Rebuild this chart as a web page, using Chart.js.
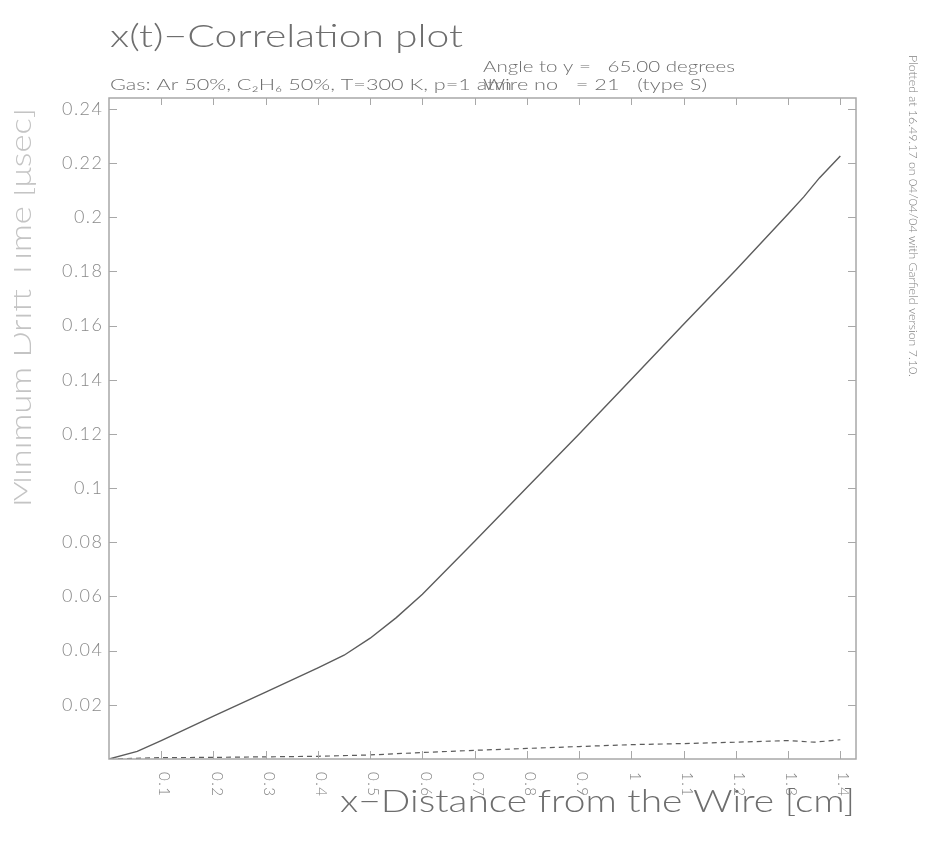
<!DOCTYPE html>
<html>
<head>
<meta charset="utf-8">
<title>x(t)-Correlation plot</title>
<script src="https://cdn.jsdelivr.net/npm/chart.js@4.4.1/dist/chart.umd.min.js"></script>
<style>
    html, body { margin: 0; padding: 0; background: #fff; }
    canvas { display: block; }
</style>
</head>
<body>
<canvas id="plot" width="932" height="845"></canvas>
<script>
const driftX = [0, 0.054, 0.1, 0.2, 0.3, 0.4, 0.45, 0.5, 0.55, 0.6, 0.7, 0.8, 0.9, 1.0, 1.1, 1.2, 1.3, 1.33, 1.36, 1.4];
const driftT = [0, 0.0028, 0.0068, 0.0158, 0.0247, 0.0336, 0.0383, 0.0446, 0.0522, 0.0608, 0.0804, 0.1002, 0.1200, 0.1402, 0.1605, 0.1805, 0.2012, 0.2075, 0.2145, 0.2226];

const spreadX = [0, 0.1, 0.2, 0.3, 0.4, 0.5, 0.6, 0.7, 0.8, 0.9, 1.0, 1.1, 1.2, 1.3, 1.35, 1.4];
const spreadT = [0, 0.0005, 0.0006, 0.0008, 0.0010, 0.0015, 0.0024, 0.0032, 0.0039, 0.0046, 0.0053, 0.0057, 0.0062, 0.0068, 0.0062, 0.0071];

const xTicks = [0.1, 0.2, 0.3, 0.4, 0.5, 0.6, 0.7, 0.8, 0.9, 1.0, 1.1, 1.2, 1.3, 1.4];
const yTicks = [0.02, 0.04, 0.06, 0.08, 0.1, 0.12, 0.14, 0.16, 0.18, 0.2, 0.22, 0.24];

const FONT = 'Lato, "DejaVu Sans", sans-serif';

/**
 * Draw text stretched/squeezed to a given width
 */
function fitText(ctx, text, x, y, width, angle) {
    const w = ctx.measureText(text).width;
    ctx.save();
    ctx.translate(x, y);
    if (angle) ctx.rotate(angle);
    ctx.scale(width / w, 1);
    ctx.fillText(text, 0, 0);
    ctx.restore();
}

function fmt(v) {
    return String(parseFloat(v.toFixed(3)));
}

// Frame, inward ticks and all the annotation text
const garfieldFrame = {
    id: 'garfieldFrame',
    afterDraw(chart) {
        const { ctx, chartArea: a, scales: { x, y } } = chart;
        ctx.save();

        // frame
        ctx.strokeStyle = '#a8a8a8';
        ctx.lineWidth = 1.5;
        ctx.strokeRect(a.left, a.top, a.right - a.left, a.bottom - a.top);

        // inward ticks on all four sides
        ctx.lineWidth = 1;
        ctx.beginPath();
        xTicks.forEach(v => {
            const px = Math.round(x.getPixelForValue(v)) + 0.5;
            ctx.moveTo(px, a.bottom); ctx.lineTo(px, a.bottom - 8);
            ctx.moveTo(px, a.top); ctx.lineTo(px, a.top + 7);
        });
        yTicks.forEach(v => {
            const py = Math.round(y.getPixelForValue(v)) + 0.5;
            ctx.moveTo(a.left, py); ctx.lineTo(a.left + 8, py);
            ctx.moveTo(a.right, py); ctx.lineTo(a.right - 8, py);
        });
        ctx.stroke();

        // y tick labels
        ctx.fillStyle = '#8a8a8a';
        ctx.font = `300 18px ${FONT}`;
        ctx.letterSpacing = '1.5px';
        ctx.textAlign = 'right';
        ctx.textBaseline = 'middle';
        yTicks.forEach(v => {
            ctx.fillText(fmt(v), 103.5, y.getPixelForValue(v));
        });

        // x tick labels, rotated clockwise
        ctx.fillStyle = '#808080';
        ctx.font = `300 15px ${FONT}`;
        ctx.letterSpacing = '1.5px';
        ctx.textAlign = 'left';
        xTicks.forEach(v => {
            ctx.save();
            ctx.translate(x.getPixelForValue(v) + 3, a.bottom + 13);
            ctx.rotate(Math.PI / 2);
            ctx.fillText(fmt(v), 0, 0);
            ctx.restore();
        });
        ctx.letterSpacing = '0px';

        // titles
        ctx.textBaseline = 'alphabetic';
        ctx.fillStyle = '#6e6e6e';
        ctx.font = `300 31px ${FONT}`;
        fitText(ctx, 'x(t)\u2212Correlation plot', 110, 47, 353);

        ctx.font = `300 16px ${FONT}`;
        fitText(ctx, 'Angle to y =   65.00 degrees', 483, 72, 252);
        fitText(ctx, 'Gas: Ar 50%, C\u2082H\u2086 50%, T=300 K, p=1 atm', 110, 90, 402);
        fitText(ctx, 'Wire no   = 21   (type S)', 483, 90, 224);

        ctx.font = `300 32px ${FONT}`;
        fitText(ctx, 'x\u2212Distance from the Wire [cm]', 340, 812, 515);

        // y axis title, only its lower half shows in the original
        ctx.save();
        ctx.beginPath();
        ctx.rect(14, 0, 40, 845);
        ctx.clip();
        ctx.fillStyle = '#c4c4c4';
        ctx.font = `300 29px ${FONT}`;
        fitText(ctx, 'Minimum Drift Time [\u03bcsec]', 31, 507, 399, -Math.PI / 2);
        ctx.restore();

        // plot stamp, right edge
        ctx.fillStyle = '#808080';
        ctx.font = `300 12px ${FONT}`;
        ctx.textBaseline = 'middle';
        fitText(ctx, 'Plotted at 16.49.17 on 04/04/04 with Garfield version 7.10.', 913, 55, 322, Math.PI / 2);

        ctx.restore();
    }
};

const toPoints = (xs, ys) => xs.map((v, i) => ({ x: v, y: ys[i] }));

new Chart(document.getElementById('plot').getContext('2d'), {
    type: 'line',
    data: {
        datasets: [
            {
                label: 'Drift time',
                data: toPoints(driftX, driftT),
                borderColor: '#5c5c5c',
                borderWidth: 1.4,
                pointRadius: 0,
                tension: 0,
                fill: false
            },
            {
                label: 'Spread',
                data: toPoints(spreadX, spreadT),
                borderColor: '#5c5c5c',
                borderWidth: 1.2,
                borderDash: [5, 4],
                pointRadius: 0,
                tension: 0,
                fill: false
            }
        ]
    },
    options: {
        responsive: false,
        animation: false,
        events: [],
        layout: {
            padding: { left: 109, right: 76, top: 98, bottom: 86 }
        },
        plugins: {
            legend: { display: false },
            tooltip: { enabled: false }
        },
        scales: {
            x: {
                type: 'linear',
                min: 0,
                max: 1.43,
                ticks: { display: false, stepSize: 0.1 },
                grid: { display: false },
                border: { display: false },
                afterFit(scale) { scale.height = 0; }
            },
            y: {
                min: 0,
                max: 0.244,
                ticks: { display: false, stepSize: 0.02 },
                grid: { display: false },
                border: { display: false },
                afterFit(scale) { scale.width = 0; }
            }
        }
    },
    plugins: [garfieldFrame]
});
</script>
</body>
</html>
